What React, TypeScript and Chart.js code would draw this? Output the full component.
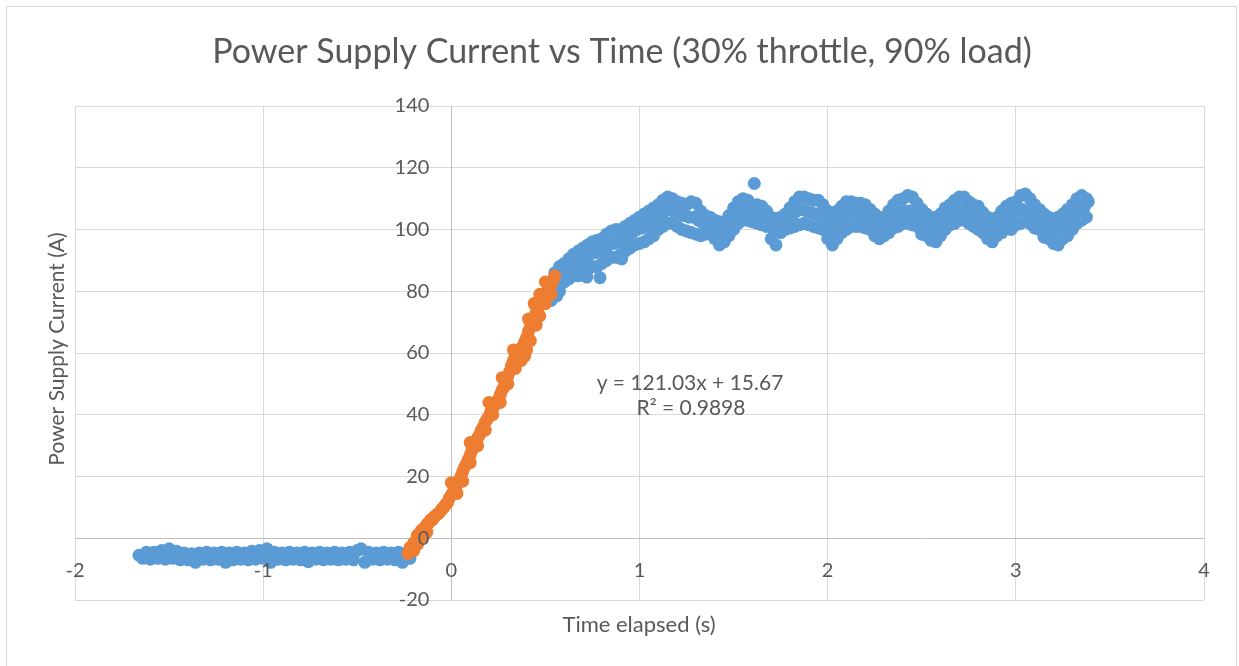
import { useEffect, useRef } from 'react';
import { Chart, registerables } from 'chart.js';

Chart.register(...registerables);

const chartTitle = 'Power Supply Current vs Time (30% throttle, 90% load)';
const xAxisTitle = 'Time elapsed (s)';
const yAxisTitle = 'Power Supply Current (A)';
const trendLines = ['y = 121.03x + 15.67', 'R\u00B2 = 0.9898'];

const xTickValues = [-2, -1, 0, 1, 2, 3, 4];
const yTickValues = [-20, 0, 20, 40, 60, 80, 100, 120, 140];

// Blue series, idle part (before the step)
const idleTime = [
  -1.66, -1.64, -1.62, -1.6, -1.58, -1.56, -1.54, -1.52, -1.5, -1.48,
  -1.46, -1.44, -1.42, -1.4, -1.38, -1.36, -1.34, -1.32, -1.3, -1.28,
  -1.26, -1.24, -1.22, -1.2, -1.18, -1.16, -1.14, -1.12, -1.1, -1.08,
  -1.06, -1.04, -1.02, -1.0, -0.98, -0.96, -0.94, -0.92, -0.9, -0.88,
  -0.86, -0.84, -0.82, -0.8, -0.78, -0.76, -0.74, -0.72, -0.7, -0.68,
  -0.66, -0.64, -0.62, -0.6, -0.58, -0.56, -0.54, -0.52, -0.5, -0.48,
  -0.46, -0.44, -0.42, -0.4, -0.38, -0.36, -0.34, -0.32, -0.3, -0.28,
  -0.26, -0.24, -0.22,
];
const idleCurrent = [
  -5.5, -6.5, -4.5, -6.8, -4.5, -6.5, -4.0, -6.8, -3.4, -6.5,
  -4.2, -7.0, -4.8, -7.0, -5.0, -7.8, -4.8, -6.8, -4.5, -7.0,
  -4.8, -6.8, -4.5, -7.8, -4.8, -7.0, -4.5, -6.8, -4.8, -7.0,
  -4.2, -6.8, -4.0, -6.5, -3.4, -7.8, -4.5, -6.8, -4.8, -7.0,
  -4.5, -6.8, -4.8, -7.0, -4.5, -7.6, -4.8, -6.8, -4.5, -7.0,
  -4.8, -6.8, -4.5, -7.0, -4.8, -6.8, -4.5, -7.0, -4.0, -3.4,
  -7.8, -4.5, -6.8, -4.8, -7.0, -4.5, -6.8, -4.8, -7.0, -4.5,
  -7.8, -5.0, -6.5,
];

// Blue series, settled part (after the ramp): alternating upper / lower edge readings
const settledTime = [
  0.53, 0.56,
  0.55, 0.575, 0.6, 0.625, 0.65, 0.675, 0.7, 0.72, 0.725, 0.75,
  0.775, 0.79, 0.8, 0.825, 0.85, 0.875, 0.9, 0.905, 0.925, 0.95,
  0.975, 1.0, 1.025, 1.05, 1.075, 1.1, 1.125, 1.15, 1.175, 1.2,
  1.225, 1.25, 1.275, 1.3, 1.325, 1.35, 1.375, 1.4, 1.425, 1.45,
  1.475, 1.5, 1.525, 1.55, 1.575, 1.6, 1.61, 1.625, 1.65, 1.675,
  1.7, 1.725, 1.75, 1.775, 1.8, 1.825, 1.85, 1.875, 1.9, 1.925,
  1.95, 1.975, 2.0, 2.025, 2.05, 2.075, 2.1, 2.125, 2.15, 2.175,
  2.2, 2.225, 2.25, 2.275, 2.3, 2.325, 2.35, 2.375, 2.4, 2.425,
  2.45, 2.475, 2.5, 2.525, 2.55, 2.575, 2.6, 2.625, 2.65, 2.675,
  2.7, 2.725, 2.75, 2.775, 2.8, 2.825, 2.85, 2.875, 2.9, 2.925,
  2.95, 2.975, 3.0, 3.025, 3.05, 3.075, 3.1, 3.125, 3.15, 3.175,
  3.2, 3.225, 3.25, 3.275, 3.3, 3.325, 3.35, 3.375, 3.385,
];
const settledCurrent = [
  77, 78.5,
  86, 80, 89, 84, 92, 85, 94, 84.6, 87, 96,
  88, 84.4, 97, 90, 99.5, 91, 100, 90.5, 93, 102,
  95, 104, 96, 106, 98, 108, 101, 110.5, 102, 109,
  100, 108, 99, 108.5, 98, 104.5, 99, 103, 95, 102,
  98, 107, 102, 110, 103, 108, 114.9, 102, 107.5, 101,
  104, 95, 104, 100, 107, 101, 110.5, 102, 110, 101,
  109.5, 100, 106, 95, 106, 99, 109, 101, 108.5, 101,
  108, 100, 105, 97, 104, 99, 108, 101, 110, 102,
  110.5, 101, 106.5, 98, 104, 96, 105, 100, 108, 102,
  110.5, 103, 109, 101, 107.5, 99, 104, 96, 104, 99,
  107.5, 100, 109, 102, 111.5, 102, 108, 100, 105, 97,
  103, 95, 105, 98, 108, 102, 111, 104, 109,
];

// Blue series, settled part: the opposite edge at the same instants
const settledOppTime = [
  0.55, 0.575, 0.6, 0.625, 0.65, 0.675, 0.7, 0.725, 0.75, 0.775,
  0.8, 0.825, 0.85, 0.875, 0.9, 0.925, 0.95, 0.975, 1.0, 1.025,
  1.05, 1.075, 1.1, 1.125, 1.15, 1.175, 1.2, 1.225, 1.25, 1.275,
  1.3, 1.325, 1.35, 1.375, 1.4, 1.425, 1.45, 1.475, 1.5, 1.525,
  1.55, 1.575, 1.6, 1.625, 1.65, 1.675, 1.7, 1.725, 1.75, 1.775,
  1.8, 1.825, 1.85, 1.875, 1.9, 1.925, 1.95, 1.975, 2.0, 2.025,
  2.05, 2.075, 2.1, 2.125, 2.15, 2.175, 2.2, 2.225, 2.25, 2.275,
  2.3, 2.325, 2.35, 2.375, 2.4, 2.425, 2.45, 2.475, 2.5, 2.525,
  2.55, 2.575, 2.6, 2.625, 2.65, 2.675, 2.7, 2.725, 2.75, 2.775,
  2.8, 2.825, 2.85, 2.875, 2.9, 2.925, 2.95, 2.975, 3.0, 3.025,
  3.05, 3.075, 3.1, 3.125, 3.15, 3.175, 3.2, 3.225, 3.25, 3.275,
  3.3, 3.325, 3.35, 3.375,
];
const settledOppCurrent = [
  80, 88, 83, 90.5, 85, 93, 86, 95, 88, 96.5,
  89, 98.5, 91, 100, 92, 101, 94, 103, 95.5, 105,
  97, 107, 100, 109.5, 102, 110, 101, 108.5, 99.5, 109,
  98.5, 106, 98.5, 104, 97, 102.5, 96, 104.5, 100, 109,
  103, 109.5, 102.5, 108, 101.5, 106, 97, 103.5, 99, 105,
  100.5, 109, 101.5, 110.5, 101.5, 109.5, 100.5, 108, 97, 104.5,
  97, 107.5, 100, 109, 101, 108.5, 100.5, 106.5, 98, 104,
  98, 106, 100.5, 109.5, 102, 111, 101.5, 108.5, 98.5, 105,
  96.5, 104, 98, 107, 101.5, 109.5, 103, 110.5, 102, 108,
  100, 105.5, 97, 102.5, 98, 106, 100.5, 108.5, 101.5, 111,
  102.5, 110, 100.5, 106.5, 97.5, 104, 95.5, 104, 97, 106.5,
  100, 110, 103, 110,
];

// Blue series, settled part: band-centre readings
const settledMidTime = [
  0.5625, 0.5875, 0.6125, 0.6375, 0.6625, 0.6875, 0.7125, 0.7375, 0.7625, 0.7875,
  0.8125, 0.8375, 0.8625, 0.8875, 0.9125, 0.9375, 0.9625, 0.9875, 1.0125, 1.0375,
  1.0625, 1.0875, 1.1125, 1.1375, 1.1625, 1.1875, 1.2125, 1.2375, 1.2625, 1.2875,
  1.3125, 1.3375, 1.3625, 1.3875, 1.4125, 1.4375, 1.4625, 1.4875, 1.5125, 1.5375,
  1.5625, 1.5875, 1.6125, 1.6375, 1.6625, 1.6875, 1.7125, 1.7375, 1.7625, 1.7875,
  1.8125, 1.8375, 1.8625, 1.8875, 1.9125, 1.9375, 1.9625, 1.9875, 2.0125, 2.0375,
  2.0625, 2.0875, 2.1125, 2.1375, 2.1625, 2.1875, 2.2125, 2.2375, 2.2625, 2.2875,
  2.3125, 2.3375, 2.3625, 2.3875, 2.4125, 2.4375, 2.4625, 2.4875, 2.5125, 2.5375,
  2.5625, 2.5875, 2.6125, 2.6375, 2.6625, 2.6875, 2.7125, 2.7375, 2.7625, 2.7875,
  2.8125, 2.8375, 2.8625, 2.8875, 2.9125, 2.9375, 2.9625, 2.9875, 3.0125, 3.0375,
  3.0625, 3.0875, 3.1125, 3.1375, 3.1625, 3.1875, 3.2125, 3.2375, 3.2625, 3.2875,
  3.3125, 3.3375, 3.3625,
];
const settledMidCurrent = [
  83, 85, 87, 88, 89, 90, 91, 92, 92.5, 93,
  94, 95, 95.5, 96, 97, 98, 99, 100, 100.5, 101,
  102, 103.5, 105, 106, 106.5, 105.5, 105, 104.5, 104, 104,
  103, 102, 101.5, 100.5, 99.5, 99, 100, 102, 104.5, 106,
  106.5, 105.5, 105, 104.5, 104, 102.5, 100, 99.5, 102, 103.5,
  104.5, 106, 106.5, 106, 105.5, 105, 104.5, 103, 100.5, 100,
  102.5, 104, 105, 105, 104.5, 104.5, 104, 102.5, 101, 100.5,
  101.5, 103, 104.5, 105.5, 106, 106, 105, 103, 101.5, 100.5,
  100, 101, 102.5, 104, 105.5, 106.5, 106.5, 105.5, 105, 103.5,
  102.5, 101, 100, 100, 101.5, 103, 104, 105, 106, 106.5,
  106, 104.5, 103, 101.5, 100.5, 99.5, 99.5, 100.5, 102, 104,
  105.5, 106.5, 107,
];

// Orange series: the ramp used for the linear fit (main run)
const rampTime = [
  -0.23, -0.22, -0.21, -0.2, -0.19, -0.18, -0.17, -0.16, -0.15, -0.14,
  -0.13, -0.12, -0.11, -0.1, -0.09, -0.08, -0.07, -0.06, -0.05, -0.04,
  -0.03, -0.02, -0.01, 0.0, 0.01, 0.02, 0.03, 0.04, 0.05, 0.06,
  0.07, 0.08, 0.09, 0.1, 0.11, 0.12, 0.13, 0.14, 0.15, 0.16,
  0.17, 0.18, 0.19, 0.2, 0.21, 0.22, 0.23, 0.24, 0.25, 0.26,
  0.27, 0.28, 0.29, 0.3, 0.31, 0.32, 0.33, 0.34, 0.35, 0.36,
  0.37, 0.38, 0.39, 0.4, 0.41, 0.42, 0.43, 0.44, 0.45, 0.46,
  0.47, 0.48, 0.49, 0.5, 0.51, 0.52, 0.53, 0.54, 0.55,
];
const rampCurrent = [
  -5, -3, -4, -1.5, -1, 1, 0.5, 2.5, 3, 3.5,
  4.5, 5, 6, 6, 7, 7.5, 8, 8.5, 9.5, 10,
  11, 11.5, 13, 14, 15, 16, 17.5, 18.5, 20, 21.5,
  23, 24, 25.5, 27, 28.5, 29.5, 31, 32.5, 33.5, 35,
  36, 37.5, 38.5, 39.5, 41, 42, 43, 44, 45, 46.5,
  48, 49, 50.5, 52.5, 54, 56, 57.5, 59, 60, 60.5,
  61.5, 62, 63.5, 65, 67, 68.5, 70, 71.5, 73, 74.5,
  75.5, 76.5, 77.5, 79, 80, 81.5, 82, 83.5, 85,
];

// Orange series: scattered readings either side of the main run
const rampSpreadTime = [
  -0.2, -0.18, -0.15, -0.13, 0.0, 0.03, 0.06, 0.1, 0.1, 0.14,
  0.18, 0.2, 0.22, 0.26, 0.27, 0.3, 0.33, 0.34, 0.37, 0.39,
  0.4, 0.41, 0.42, 0.44, 0.45, 0.47, 0.47, 0.5, 0.5, 0.53,
];
const rampSpreadCurrent = [
  -4, -2, 0.5, 2, 18, 14.5, 18.5, 24.5, 31, 30,
  35, 44, 40, 44, 52, 50, 61, 55, 57.5, 59,
  61, 71, 64, 76, 69, 72, 79, 76, 83, 79,
];

const FONT = 'Lato, "Open Sans", sans-serif';
const TEXT_COLOR = '#595959';

const excelDecor = {
  id: 'excelDecor',
  beforeDraw(chart: any) {
    const { ctx, width, height } = chart;
    ctx.save();
    ctx.fillStyle = '#ffffff';
    ctx.fillRect(0, 0, width, height);
    ctx.strokeStyle = '#D9D9D9';
    ctx.lineWidth = 1;
    ctx.strokeRect(6.5, 6.5, 1230, 700);
    ctx.restore();
  },
  beforeDatasetsDraw(chart: any) {
    const { ctx, chartArea: a } = chart;
    const xs = chart.scales.x;
    const ys = chart.scales.y;
    ctx.save();
    ctx.strokeStyle = '#BFBFBF';
    ctx.lineWidth = 1;
    const y0 = Math.round(ys.getPixelForValue(0)) + 0.5;
    const x0 = Math.round(xs.getPixelForValue(0)) + 0.5;
    ctx.beginPath();
    ctx.moveTo(a.left, y0);
    ctx.lineTo(a.right, y0);
    ctx.moveTo(x0, a.top);
    ctx.lineTo(x0, a.bottom);
    ctx.stroke();
    ctx.restore();
  },
  afterDatasetsDraw(chart: any) {
    const { ctx } = chart;
    const xs = chart.scales.x;
    const ys = chart.scales.y;
    const y0 = ys.getPixelForValue(0);
    const x0 = xs.getPixelForValue(0);
    ctx.save();
    ctx.fillStyle = TEXT_COLOR;
    ctx.textBaseline = 'middle';

    ctx.font = `20px ${FONT}`;
    ctx.textAlign = 'center';
    xTickValues.forEach((v) => {
      ctx.fillText(String(v), xs.getPixelForValue(v), y0 + 32);
    });
    ctx.textAlign = 'right';
    yTickValues.forEach((v) => {
      ctx.fillText(String(v), x0 - 22, ys.getPixelForValue(v));
    });

    ctx.textAlign = 'center';
    ctx.font = `34px ${FONT}`;
    ctx.fillText(chartTitle, 622, 52);

    ctx.font = `21px ${FONT}`;
    ctx.fillText(trendLines[0], 690, 383);
    ctx.fillText(trendLines[1], 691, 408);
    ctx.font = `22px ${FONT}`;
    ctx.fillText(xAxisTitle, 639, 625);

    ctx.font = `21px ${FONT}`;
    ctx.translate(57, 349);
    ctx.rotate(-Math.PI / 2);
    ctx.fillText(yAxisTitle, 0, 0);
    ctx.restore();
  },
};

export default function App() {
  const canvasRef = useRef<HTMLCanvasElement | null>(null);

  useEffect(() => {
    const canvas = canvasRef.current;
    if (!canvas) return;
    const pairs = (xs: number[], ys: number[]) => xs.map((t, i) => ({ x: t, y: ys[i] }));
    const bluePoints = [
      ...pairs(idleTime, idleCurrent),
      ...pairs(settledTime, settledCurrent),
      ...pairs(settledOppTime, settledOppCurrent),
      ...pairs(settledMidTime, settledMidCurrent),
    ];
    const orangePoints = [...pairs(rampTime, rampCurrent), ...pairs(rampSpreadTime, rampSpreadCurrent)];

    const chart = new Chart(canvas, {
      type: 'scatter',
      data: {
        datasets: [
          {
            label: 'Ramp',
            data: orangePoints,
            backgroundColor: '#ED7D31',
            borderWidth: 0,
            pointRadius: 6.5,
            order: 0,
          },
          {
            label: 'Current',
            data: bluePoints,
            backgroundColor: '#5B9BD5',
            borderWidth: 0,
            pointRadius: 6.5,
            order: 1,
          },
        ],
      },
      options: {
        responsive: false,
        animation: false,
        devicePixelRatio: 1,
        layout: { padding: { left: 75, right: 35, top: 106, bottom: 66 } },
        plugins: {
          legend: { display: false },
          title: { display: false },
          tooltip: { enabled: false },
        },
        scales: {
          x: {
            type: 'linear',
            min: -2,
            max: 4,
            ticks: { display: false, stepSize: 1 },
            grid: { color: '#D9D9D9', drawTicks: false, lineWidth: 1 },
            border: { display: false },
          },
          y: {
            type: 'linear',
            min: -20,
            max: 140,
            ticks: { display: false, stepSize: 20 },
            grid: { color: '#D9D9D9', drawTicks: false, lineWidth: 1 },
            border: { display: false },
          },
        },
      },
      plugins: [excelDecor],
    });
    return () => chart.destroy();
  }, []);

  return (
    <div style={{ position: 'absolute', left: 0, top: 0, width: 1239, height: 666, background: '#fff' }}>
      <canvas ref={canvasRef} width={1239} height={666} style={{ display: 'block', width: 1239, height: 666 }} />
    </div>
  );
}
